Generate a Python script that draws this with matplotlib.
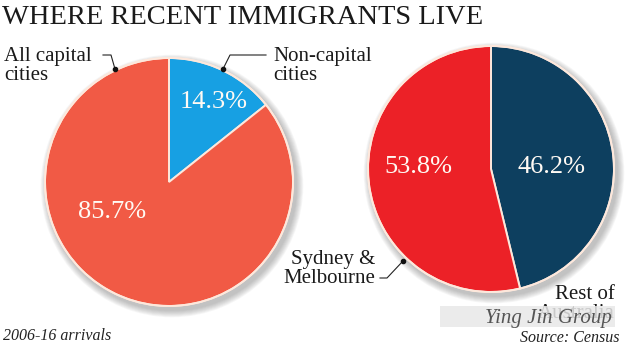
import matplotlib.pyplot as plt
from matplotlib.patches import Circle, Rectangle

# data
left_labels = ["Non-capital cities", "All capital cities"]
left_values = [14.3, 85.7]
right_labels = ["Rest of Australia", "Sydney & Melbourne"]
right_values = [46.2, 53.8]

left_colors = ["#17a0e3", "#f15a45"]
right_colors = ["#0d3f5f", "#ec2127"]

W, H = 625, 354
SERIF = ["Liberation Serif", "DejaVu Serif"]


def Y(y):
    # image row -> data y (y up)
    return H - y


fig = plt.figure(figsize=(6.25, 3.54), dpi=100)
ax = fig.add_axes([0, 0, 1, 1])


def shadow(cx, cy, r):
    for i in range(8):
        ax.add_patch(Circle((cx + 3, cy - 4), r + 1 + i * 0.9, color="#555555",
                            alpha=0.05, lw=0, zorder=1))


def draw_pie(cx, cy, r, values, colors):
    shadow(cx, cy, r)
    wedges, _ = ax.pie(values, colors=colors, startangle=90, counterclock=False,
                       center=(cx, cy), radius=r,
                       wedgeprops=dict(edgecolor="#fde8dc", linewidth=1.4))
    for w in wedges:
        w.set_zorder(2)
    ax.add_patch(Circle((cx, cy), r, fill=False, ec="#fde8dc", lw=1.4, zorder=3))


draw_pie(169, Y(182), 124, left_values, left_colors)
draw_pie(491, Y(169), 123, right_values, right_colors)
ax.set_xlim(0, W)
ax.set_ylim(0, H)
ax.set_aspect("equal")
ax.axis("off")

# percentages
pct = dict(color="#fffaf4", fontsize=19, family=SERIF, ha="center", va="center", zorder=5)
ax.text(214, Y(102), f"{left_values[0]}%", **pct)
ax.text(112, Y(212), f"{left_values[1]}%", **pct)
ax.text(552, Y(167), f"{right_values[0]}%", **pct)
ax.text(418, Y(167), f"{right_values[1]}%", **pct)

# titles and labels
ax.text(2, Y(18), "WHERE RECENT IMMIGRANTS LIVE", fontsize=20.5, family=SERIF,
        color="#1a1a1a", ha="left", va="center")
lab = dict(fontsize=15, family=SERIF, color="#1a1a1a", linespacing=0.95, zorder=5)
ax.text(4, Y(66), "All capital\ncities", ha="left", va="center", **lab)
ax.text(273, Y(66), "Non-capital\ncities", ha="left", va="center", **lab)
ax.text(375, Y(269), "Sydney &\nMelbourne", ha="right", va="center", **lab)
ax.text(615, Y(304), "Rest of\nAustralia", ha="right", va="center",
        multialignment="right", **lab)

# leader lines
ln = dict(color="#222222", lw=0.8, zorder=6)
ax.plot([103, 111, 115], [Y(55), Y(55), Y(69)], **ln)
ax.plot(115, Y(69), "o", color="#111111", ms=3, zorder=6)
ax.plot([266, 230, 223], [Y(55), Y(55), Y(69)], **ln)
ax.plot(223, Y(69), "o", color="#111111", ms=3, zorder=6)
ax.plot([380, 387, 403], [Y(278), Y(278), Y(261)], **ln)
ax.plot(403, Y(261), "o", color="#111111", ms=3, zorder=6)

# footnotes
ax.text(3, Y(336), "2006-16 arrivals", fontsize=11.5, family=SERIF, style="italic",
        color="#222222", ha="left", va="center")
ax.text(620, Y(338), "Source: Census", fontsize=11.5, family=SERIF, style="italic",
        color="#222222", ha="right", va="center")

# watermark
ax.add_patch(Rectangle((440, Y(327)), 175, 21, color="#e8e8e8", alpha=0.85, lw=0, zorder=7))
ax.text(612, Y(318), "Ying Jin Group", fontsize=15, family=SERIF, style="italic",
        color="#555555", ha="right", va="center", zorder=8)

fig.savefig("out.png", dpi=100)
